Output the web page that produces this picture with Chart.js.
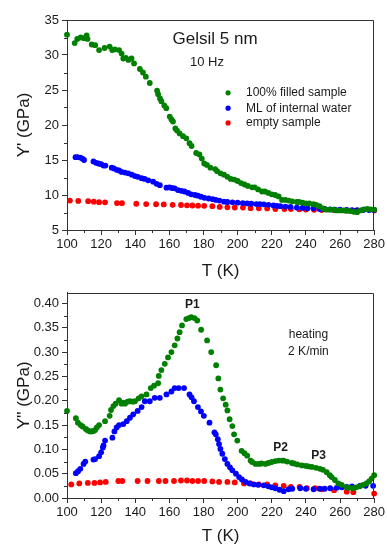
<!DOCTYPE html>
<html><head><meta charset="utf-8">
<script src="https://cdn.jsdelivr.net/npm/chart.js@4/dist/chart.umd.min.js"></script>
<style>
body{margin:0;background:#fff}
#wrap{position:relative;width:387px;height:547px;overflow:hidden}
canvas{position:absolute;left:0}
</style></head>
<body><div id="wrap">
<canvas id="topc" width="387" height="282" style="top:0"></canvas>
<canvas id="botc" width="387" height="265" style="top:282px"></canvas>
</div>
<script>
// ---- tick labels ----
const tempTicks = [100,120,140,160,180,200,220,240,260,280];
const storageTicks = [5,10,15,20,25,30,35];
const lossTicks = [0,0.05,0.10,0.15,0.20,0.25,0.30,0.35,0.40];

const seriesLabels = ['100% filled sample','ML of internal water','empty sample'];

// ---- Y' (storage) : 100% filled ----
const storFilledT = [100,104.5,106,108,110,111.5,112,114.5,116.5,118.8,122,125,126.5,128,130.5,132,133,134.5,136,137.8,139.3,142.7,144.5,146.2,148.5,152.8,153.4,154.5,155.3,157,158.2,160.2,161.2,162.1,163.5,164.5,166,168,169.9,171.8,173,175.7,177.6,179,180.4,182,184,186.8,188,190,192,194,196,198,200,202,204,206,208.5,210,212,214.3,216,218,220,222,224,226,228,230,232,234.7,236,238,240,242,244.5,246,248,250,252,254,256,258,260,262,264,266,268,270,272,274,276,278,280];
const storFilledY = [32.9,31.7,32.3,32.5,32.4,32.8,32.3,31.5,31.4,30.7,31.0,31.2,30.7,30.8,30.7,30.2,29.5,29.6,29.3,29.5,28.8,28.0,27.5,26.9,26.0,24.9,24.4,23.8,23.4,22.8,22.4,21.2,20.8,20.5,19.5,19.2,18.8,18.4,18.1,17.4,17.0,16.0,15.8,15.2,14.5,14.3,13.9,13.7,13.4,13.1,12.9,12.6,12.3,12.2,12.0,11.7,11.5,11.3,11.1,11.1,10.8,10.5,10.5,10.3,10.1,10.0,9.8,9.3,9.3,9.2,9.1,9.0,9.0,8.9,8.8,8.8,8.7,8.6,8.4,8.1,7.9,7.9,7.9,7.8,7.8,7.8,7.75,7.7,7.6,7.55,7.8,7.95,8.0,7.95,7.9];

// ---- Y' : ML of internal water ----
const storMLT = [105,106,107.8,109,110,115.5,117,118.4,120,121.4,122.5,126.2,127.5,129.1,130.5,132,134,135.9,138,139.8,141.5,143.7,145.5,147.6,150.5,152.5,154.4,158.3,160,161.5,163.1,165,167,168.9,171,172.8,175,176.7,178.5,180.6,183,185.4,187.2,189.3,192,194,197,200,203,205.6,208,211,213,215.3,218,221,223,225,228,231,234.7,238,241,244.5,248,251,254.2,257,260,263.9,267,270,273.6,277,280];
const storMLY = [15.4,15.4,15.35,15.2,15.0,14.8,14.6,14.5,14.4,14.2,14.2,13.9,13.8,13.6,13.5,13.3,13.2,13.1,12.9,12.7,12.6,12.4,12.3,12.1,11.9,11.6,11.4,11.05,11.1,11.0,10.95,10.7,10.6,10.5,10.3,10.1,10.0,9.9,9.75,9.6,9.5,9.4,9.3,9.2,9.05,9.0,8.95,8.9,8.85,8.8,8.75,8.7,8.7,8.67,8.6,8.5,8.45,8.4,8.35,8.3,8.2,8.15,8.1,8.1,8.0,8.0,7.95,7.9,7.9,7.86,7.85,7.85,7.86,7.86,7.86];

// ---- Y' : empty sample ----
const storEmptyT = [101.7,106.6,112.4,115.7,118.8,122.3,129.3,132.2,140.6,146.4,152.2,156.7,161.9,166.8,170.3,173.5,176.8,180.4,185.2,189.5,194,198.3,203.1,207.6,212.4,217.3,222.1,227.4,231.2,236.1,240,244.8,249.3,256.5,263.2,267.7,280];
const storEmptyY = [9.2,9.15,9.12,9.05,8.97,8.95,8.85,8.83,8.75,8.7,8.68,8.66,8.6,8.57,8.52,8.5,8.48,8.45,8.4,8.3,8.25,8.2,8.2,8.12,8.1,8.08,8.0,8.0,8.0,7.95,7.93,7.88,7.86,7.85,7.78,7.76,7.78];

// ---- Y'' (loss) : 100% filled ----
const lossFilledT = [100,105.2,106.4,108,109.1,111,112.2,113.5,114.6,115.5,116.5,117.5,118.8,122.3,125,125.8,127.2,128.5,130.5,132,133,134,135.5,136.9,138.5,139.8,142,143.7,146.6,149.1,151,153.4,153.8,155.3,157.3,159.2,161.2,163.1,164.7,166,167.4,169.9,171.5,172.8,174.7,176.3,178.6,182.1,184.5,187.4,188.7,189.9,191.5,193,194,195.3,196.9,197.9,199.8,202.3,204,205.6,207.6,208.5,210.5,212.5,214,216.3,218,220,222.1,224,226,227,229,231.8,233,235,237.6,240,241.5,243.5,246,248.3,250,252.2,254,255.1,257,259,261,263.9,265.5,267.8,269.5,271.6,273.5,275.5,277,278.5,280];
const lossFilledY = [0.179,0.164,0.155,0.150,0.147,0.142,0.139,0.137,0.137,0.138,0.140,0.145,0.150,0.158,0.169,0.181,0.189,0.194,0.201,0.194,0.196,0.194,0.198,0.199,0.198,0.199,0.205,0.209,0.213,0.226,0.231,0.236,0.251,0.263,0.276,0.289,0.300,0.314,0.328,0.341,0.355,0.368,0.370,0.372,0.370,0.365,0.346,0.324,0.300,0.273,0.246,0.223,0.205,0.192,0.180,0.162,0.148,0.131,0.118,0.097,0.092,0.087,0.077,0.074,0.070,0.070,0.071,0.070,0.072,0.074,0.076,0.077,0.077,0.077,0.075,0.072,0.071,0.069,0.067,0.066,0.065,0.064,0.062,0.060,0.058,0.053,0.047,0.043,0.037,0.030,0.027,0.022,0.021,0.020,0.022,0.024,0.027,0.030,0.034,0.040,0.047];

// ---- Y'' : ML of internal water ----
const lossMLT = [105.2,106.5,107.8,109.7,110.7,115.5,116.5,118.8,120,121,121.4,122.3,126.6,127.8,129.1,130.5,133,135,136.9,138.8,141.4,143.7,145.6,148.5,151.4,154.4,158.3,161.2,163.1,165.4,168.6,171.8,173,174.4,176.7,178.5,180.2,183.5,186.4,187.2,188.4,189.1,189.9,191,192.5,194,195.5,196.9,199,200.8,202.5,204.7,207,209.5,212,215.3,218,220,222.1,224.5,227,229.9,232,236.7,240,244.5,248,251,254.2,258,261,263.9,267,271.6,275,279.4];
const lossMLY = [0.051,0.055,0.060,0.070,0.075,0.079,0.080,0.086,0.094,0.104,0.108,0.118,0.124,0.137,0.145,0.150,0.152,0.158,0.165,0.172,0.179,0.187,0.199,0.199,0.206,0.206,0.213,0.219,0.226,0.226,0.226,0.213,0.207,0.199,0.187,0.178,0.169,0.155,0.135,0.131,0.121,0.111,0.101,0.091,0.080,0.070,0.063,0.057,0.050,0.043,0.038,0.033,0.030,0.028,0.027,0.026,0.024,0.022,0.020,0.017,0.014,0.018,0.019,0.020,0.019,0.018,0.019,0.019,0.020,0.021,0.022,0.023,0.024,0.025,0.025,0.025];

// ---- Y'' : empty sample ----
const lossEmptyT = [102.5,107.2,112.2,116.1,119.4,122.7,130.1,132.4,141.4,147.2,153.8,157.7,162.7,166.8,170.3,173.5,176.8,180.4,185.2,189.1,194,198.3,203.7,207.6,212.4,217.3,222.1,227,231.2,236.3,240.6,245.4,249.3,256.5,263.9,267.8,280];
const lossEmptyY = [0.028,0.030,0.031,0.031,0.032,0.033,0.035,0.035,0.035,0.035,0.035,0.035,0.035,0.036,0.036,0.035,0.035,0.035,0.034,0.033,0.033,0.032,0.030,0.030,0.028,0.028,0.026,0.025,0.023,0.023,0.020,0.020,0.018,0.016,0.013,0.012,0.009];

const colors = ['#008000','#0000ff','#ff0000'];
const FONT = "'Liberation Sans', Arial, sans-serif";
const TXT = '#1a1a1a';
const R = 2.9;

function pts(xs, ys){ return xs.map((x,i)=>({x:x,y:ys[i]})); }
function ds(label, xs, ys, color){
  return {label, data: pts(xs,ys), showLine:false, pointRadius:R, pointHoverRadius:R,
    pointBorderWidth:0, backgroundColor:color, borderColor:color, clip:false};
}

const framePlugin = {
  id:'frame',
  afterDraw(chart){
    const {ctx, chartArea:a, scales} = chart;
    ctx.save();
    ctx.strokeStyle = '#333'; ctx.lineWidth = 1;
    const t = Math.round(a.top)+0.5, r = Math.round(a.right)-0.5;
    ctx.beginPath();
    ctx.moveTo(Math.round(a.left), t); ctx.lineTo(r, t); ctx.lineTo(r, Math.round(a.bottom));
    ctx.stroke();
    // minor ticks
    const xs = scales.x, ys = scales.y;
    const xt = xs.ticks.map(t=>t.value), yt = ys.ticks.map(t=>t.value);
    ctx.beginPath();
    for (let i=0;i<xt.length-1;i++){
      const px = Math.round(xs.getPixelForValue((xt[i]+xt[i+1])/2))+0.5;
      ctx.moveTo(px, a.bottom); ctx.lineTo(px, a.bottom+3);
    }
    for (let i=0;i<yt.length;i++){
      const mid = i<yt.length-1 ? (yt[i]+yt[i+1])/2 : yt[i] + (yt[1]-yt[0])/2;
      if (mid > ys.max) continue;
      const py = Math.round(ys.getPixelForValue(mid))+0.5;
      ctx.moveTo(a.left-3, py); ctx.lineTo(a.left, py);
    }
    ctx.stroke();
    ctx.restore();
  },
  afterDatasetsDraw(chart){
    const o = chart.options.plugins.frame || {};
    const {ctx, scales:{x,y}} = chart;
    ctx.save();
    ctx.fillStyle = TXT; ctx.textBaseline = 'middle';
    (o.notes||[]).forEach(n=>{
      ctx.font = n.font + ' ' + FONT;
      ctx.textAlign = n.align || 'center';
      ctx.fillText(n.text, x.getPixelForValue(n.x), y.getPixelForValue(n.y));
    });
    if (o.legend){
      const L = o.legend;
      ctx.font = '12px ' + FONT; ctx.textAlign = 'left';
      chart.data.datasets.forEach((d,i)=>{
        const yy = y.getPixelForValue(L.y[i]);
        ctx.fillStyle = d.backgroundColor;
        ctx.beginPath(); ctx.arc(x.getPixelForValue(L.mx), yy, 2.6, 0, Math.PI*2); ctx.fill();
        ctx.fillStyle = TXT;
        ctx.fillText(d.label, x.getPixelForValue(L.tx), yy);
      });
    }
    ctx.restore();
  }
};

function makeChart(canvasId, datasets, yTicks, yMin, yMax, yTitle, fmt, xHeight, padTop, frameOpts){
  return new Chart(document.getElementById(canvasId), {
    type:'scatter',
    data:{datasets},
    plugins:[framePlugin],
    options:{
      responsive:false, devicePixelRatio:1, animation:false,
      layout:{padding:{left:0,right:11,top:padTop,bottom:0}},
      plugins:{legend:{display:false}, tooltip:{enabled:false}, frame:frameOpts},
      scales:{
        x:{type:'linear', min:100, max:280,
          afterBuildTicks(s){ s.ticks = tempTicks.map(v=>({value:v})); },
          afterFit(s){ s.height = xHeight; },
          ticks:{font:{family:FONT,size:13}, color:TXT, padding:2, maxRotation:0, autoSkip:false},
          grid:{drawOnChartArea:false, drawTicks:true, tickLength:5, color:'#333'},
          border:{display:true, color:'#333', width:1},
          title:{display:true, text:'T (K)', color:TXT, font:{family:FONT,size:17,lineHeight:1}, padding:{top:0,bottom:2}}
        },
        y:{type:'linear', min:yMin, max:yMax,
          afterBuildTicks(s){ s.ticks = yTicks.map(v=>({value:v})); },
          afterFit(s){ s.width = 67; },
          ticks:{font:{family:FONT,size:13}, color:TXT, padding:3, autoSkip:false, callback:fmt},
          grid:{drawOnChartArea:false, drawTicks:true, tickLength:5, color:'#333'},
          border:{display:true, color:'#333', width:1},
          title:{display:true, text:yTitle, color:TXT, font:{family:FONT,size:17,lineHeight:1}, padding:{top:16,bottom:0}}
        }
      }
    }
  });
}

makeChart('topc', [
  ds(seriesLabels[0], storFilledT, storFilledY, colors[0]),
  ds(seriesLabels[1], storMLT, storMLY, colors[1]),
  ds(seriesLabels[2], storEmptyT, storEmptyY, colors[2])
], storageTicks, 5, 35, "Y' (GPa)", v=>String(v), 52, 20, {
  notes:[
    {text:'Gelsil 5 nm', x:186.8, y:32.3, font:'17px'},
    {text:'10 Hz', x:182, y:28.9, font:'13px'}
  ],
  legend:{mx:194.4, tx:204.9, y:[24.6,22.4,20.3]}
});

makeChart('botc', [
  ds(seriesLabels[0], lossFilledT, lossFilledY, colors[0]),
  ds(seriesLabels[1], lossMLT, lossMLY, colors[1]),
  ds(seriesLabels[2], lossEmptyT, lossEmptyY, colors[2])
], lossTicks, 0, 0.422, "Y'' (GPa)", v=>Number(v).toFixed(2), 49, 8, {
  notes:[
    {text:'P1', x:173.4, y:0.398, font:'bold 12px'},
    {text:'P2', x:225.2, y:0.1036, font:'bold 12px'},
    {text:'P3', x:247.4, y:0.087, font:'bold 12px'},
    {text:'heating', x:241.5, y:0.335, font:'12px'},
    {text:'2 K/min', x:241.5, y:0.300, font:'12px'}
  ]
});
</script>
</body></html>
